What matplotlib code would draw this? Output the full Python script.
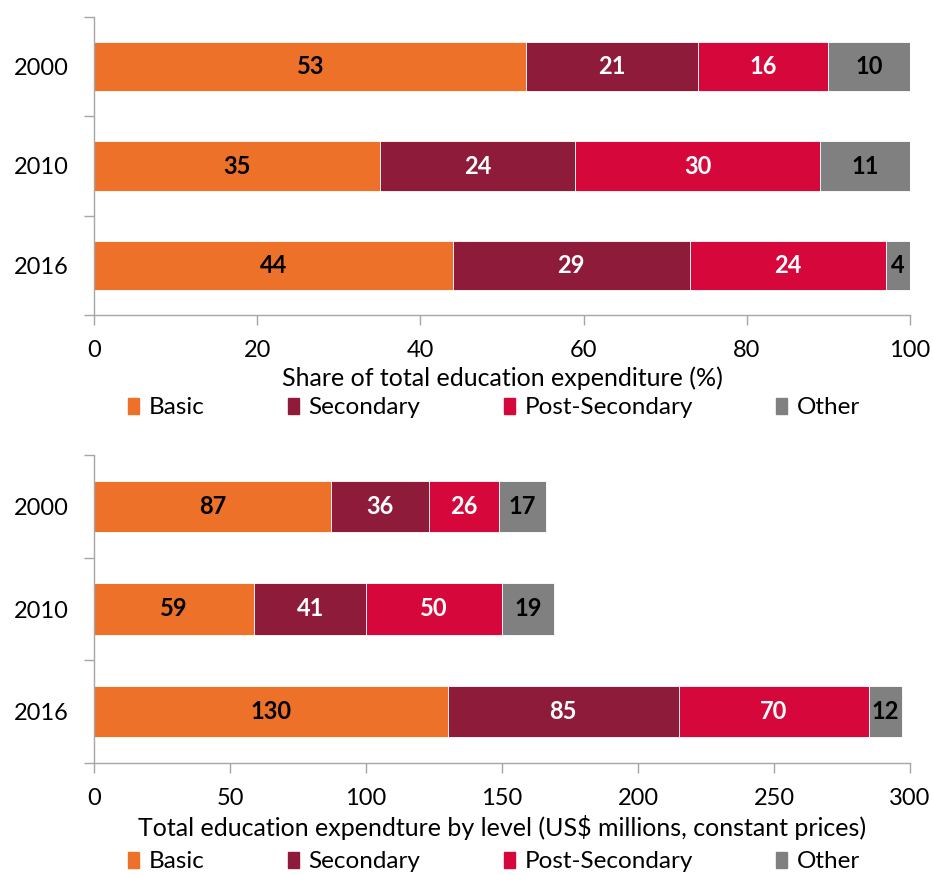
import matplotlib.pyplot as plt
import numpy as np

plt.rcParams['font.family'] = ['Lato', 'DejaVu Sans']

years = ['2000', '2010', '2016']
levels = ['Basic', 'Secondary', 'Post-Secondary', 'Other']
colors = ['#ED7128', '#8E1B3A', '#D6083B', '#808080']
label_colors = ['black', 'white', 'white', 'black']

# share of total education expenditure (%)
share_basic = [53, 35, 44]
share_secondary = [21, 24, 29]
share_post = [16, 30, 24]
share_other = [10, 11, 4]

# total education expenditure (US$ millions, constant prices)
total_basic = [87, 59, 130]
total_secondary = [36, 41, 85]
total_post = [26, 50, 70]
total_other = [17, 19, 12]

grey = '#A6A6A6'


def draw(ax, series, xmax, xstep, xlabel):
    y = np.arange(len(years))
    left = np.zeros(len(years))
    for vals, col, lcol in zip(series, colors, label_colors):
        bars = ax.barh(y, vals, left=left, height=0.5, color=col,
                       edgecolor='white', linewidth=0.6)
        ax.bar_label(bars, labels=[str(v) for v in vals], label_type='center',
                     color=lcol, fontsize=17, fontweight='bold')
        left = left + np.array(vals)
    ax.set_ylim(2.5, -0.5)
    ax.set_xlim(0, xmax)
    ax.set_xticks(np.arange(0, xmax + 1, xstep))
    ax.set_yticks([-0.5, 0.5, 1.5, 2.5])
    ax.set_yticklabels([])
    ax.set_yticks(y, minor=True)
    ax.set_yticklabels(years, minor=True)
    ax.tick_params(axis='y', which='major', length=7, color=grey, width=1)
    ax.tick_params(axis='y', which='minor', length=0, labelsize=17, pad=18)
    ax.tick_params(axis='x', length=7, color=grey, width=1, labelsize=17, pad=11)
    for s in ['top', 'right']:
        ax.spines[s].set_visible(False)
    for s in ['left', 'bottom']:
        ax.spines[s].set_color(grey)
        ax.spines[s].set_linewidth(1)
    ax.set_xlabel(xlabel, fontsize=18, labelpad=4)


fig = plt.figure(figsize=(9.33, 8.75), dpi=100)
ax1 = fig.add_axes([94 / 933, 1 - 315 / 875, 816 / 933, 298 / 875])
ax2 = fig.add_axes([94 / 933, 1 - 763 / 875, 816 / 933, 308 / 875])

draw(ax1, [share_basic, share_secondary, share_post, share_other], 100, 20,
     'Share of total education expenditure (%)')
draw(ax2, [total_basic, total_secondary, total_post, total_other], 300, 50,
     'Total education expendture by level (US$ millions, constant prices)')

for yc in [1 - 408 / 875, 1 - 862 / 875]:
    handles = [plt.Rectangle((0, 0), 1, 1, color=c) for c in colors]
    fig.legend(handles, levels, loc='center left', ncol=4, mode='expand',
               bbox_to_anchor=(128 / 933, yc - 10 / 875, 732 / 933, 20 / 875),
               frameon=False, fontsize=17.5, handlelength=0.45, handleheight=0.65,
               handletextpad=0.4, borderaxespad=0, borderpad=0)

fig.savefig('out.png', dpi=100)
